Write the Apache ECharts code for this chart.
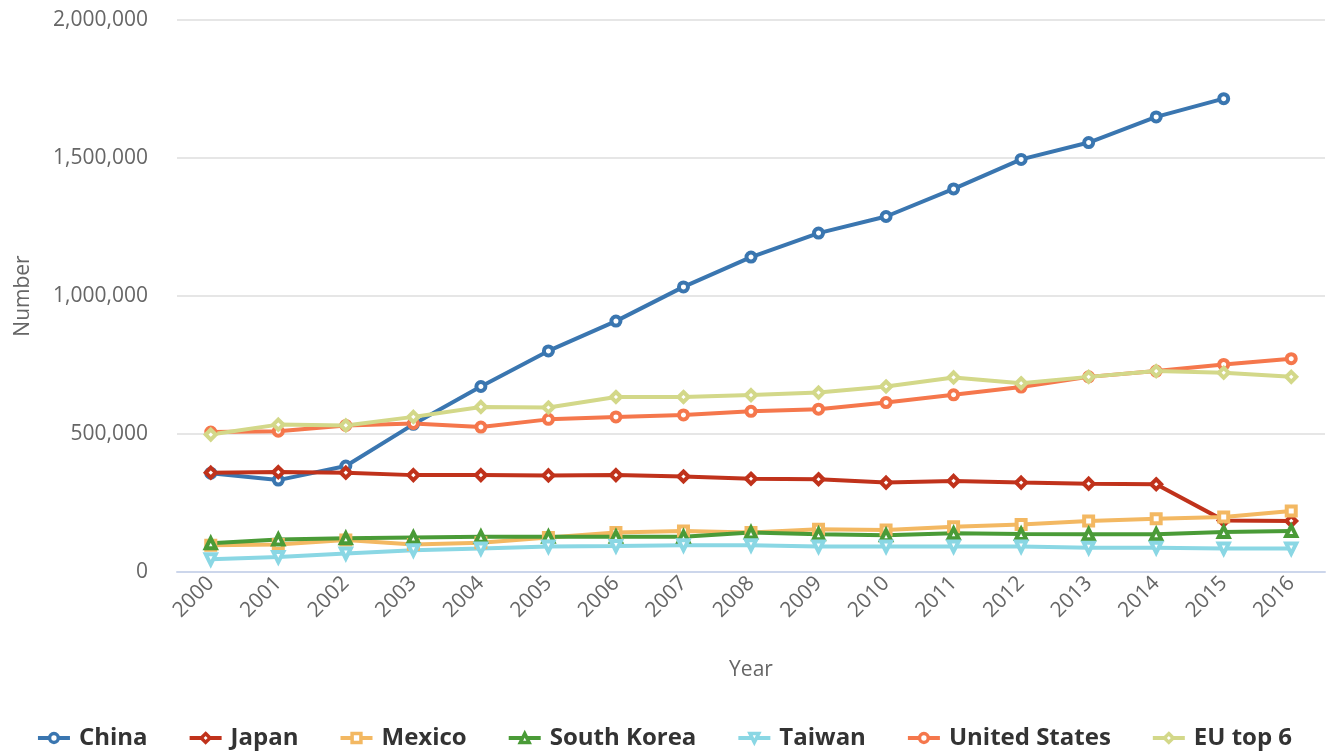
<!DOCTYPE html>
<html>
<head>
<meta charset="utf-8">
<title>Number by year</title>
<script src="https://cdn.jsdelivr.net/npm/echarts@6/dist/echarts.min.js"></script>
<style>
  html, body { margin: 0; padding: 0; background: #fff; }
  #main { width: 1328px; height: 753px; }
</style>
</head>
<body>
<div id="main"></div>
<script>
const years = ["2000", "2001", "2002", "2003", "2004", "2005", "2006", "2007", "2008",
  "2009", "2010", "2011", "2012", "2013", "2014", "2015", "2016"];

const china = [358000, 333000, 384000, 535000, 672000, 801000, 909000, 1033000, 1141000,
  1228000, 1288000, 1388000, 1495000, 1556000, 1649000, 1715000, null];
const japan = [360000, 362000, 360000, 351000, 351000, 350000, 351000, 346000, 338000,
  336000, 324000, 330000, 324000, 320000, 318000, 187000, 185000];
const mexico = [97000, 100000, 116000, 100000, 106000, 125000, 143000, 149000, 143000,
  155000, 152000, 164000, 172000, 185000, 193000, 199000, 221000];
const southKorea = [104000, 118000, 122000, 125000, 128000, 128000, 128000, 128000, 143000,
  137000, 133000, 140000, 138000, 137000, 137000, 145000, 149000];
const taiwan = [46000, 54000, 67000, 79000, 85000, 92000, 94000, 97000, 97000,
  92000, 92000, 92000, 92000, 88000, 88000, 85000, 85000];
const unitedStates = [507000, 510000, 531000, 538000, 525000, 553000, 562000, 569000, 582000,
  590000, 614000, 642000, 670000, 707000, 728000, 752000, 773000];
const euTop6 = [498000, 534000, 531000, 562000, 598000, 596000, 634000, 634000, 641000,
  650000, 672000, 705000, 684000, 707000, 728000, 722000, 707000];

const yTicks = [0, 500000, 1000000, 1500000, 2000000];

// white-filled markers with a thick coloured ring, like the original
function makeSeries(name, data, color, symbol, size, rotate) {
  return {
    name: name,
    type: "line",
    data: data,
    symbol: symbol,
    symbolSize: size,
    symbolRotate: rotate || 0,
    lineStyle: { width: 4, color: color },
    itemStyle: { color: "#fff", borderColor: color, borderWidth: 4 },
    emphasis: { disabled: true },
  };
}

const chart = echarts.init(document.getElementById("main"));
chart.setOption({
  animation: false,
  color: ["#3a76b0", "#c0321b", "#f3b862", "#4a9b37", "#8ad7e4", "#f5774c", "#d3d889"],
  textStyle: { fontFamily: "Open Sans" },
  grid: { left: 177, right: 3, top: 20, bottom: 181, outerBoundsMode: "none" },
  legend: {
    top: 721,
    left: "center",
    itemGap: 40,
    itemWidth: 32,
    itemHeight: 11,
    lineStyle: { width: 4 },
    itemStyle: { borderWidth: 3.5 },
    textStyle: {
      fontSize: 24,
      fontWeight: "bold",
      color: "#333",
      fontFamily: "Open Sans",
      padding: [0, 0, 0, 4],
    },
  },
  xAxis: {
    type: "category",
    data: years,
    name: "Year",
    nameLocation: "middle",
    nameGap: 88,
    nameTextStyle: { fontSize: 21, color: "#666" },
    axisLine: { lineStyle: { color: "#ccd6eb", width: 2 } },
    axisTick: { alignWithLabel: true, length: 17, lineStyle: { color: "#ccd6eb", width: 2 } },
    axisLabel: { rotate: 45, fontSize: 21, color: "#666", margin: 8, interval: 0 },
  },
  yAxis: {
    type: "value",
    min: yTicks[0],
    max: yTicks[yTicks.length - 1],
    interval: 500000,
    name: "Number",
    nameLocation: "middle",
    nameGap: 143,
    nameTextStyle: { fontSize: 21, color: "#666" },
    axisLabel: {
      fontSize: 21,
      color: "#666",
      margin: 29,
      formatter: (v) => v.toLocaleString("en-US"),
    },
    splitLine: { lineStyle: { color: "#e6e6e6", width: 2 } },
  },
  series: [
    makeSeries("China", china, "#3a76b0", "circle", 9),
    makeSeries("Japan", japan, "#c0321b", "diamond", 10),
    makeSeries("Mexico", mexico, "#f3b862", "rect", 9),
    makeSeries("South Korea", southKorea, "#4a9b37", "triangle", 10),
    makeSeries("Taiwan", taiwan, "#8ad7e4", "triangle", 10, 180),
    makeSeries("United States", unitedStates, "#f5774c", "circle", 9),
    makeSeries("EU top 6", euTop6, "#d3d889", "diamond", 10),
  ],
});
</script>
</body>
</html>
